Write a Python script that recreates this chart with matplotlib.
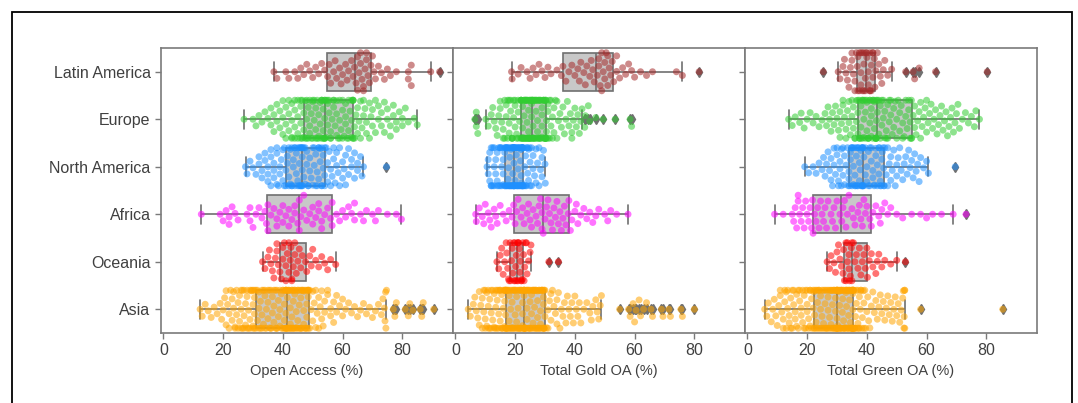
import numpy as np
import pandas as pd
import matplotlib
matplotlib.use('Agg')
import matplotlib.pyplot as plt
from matplotlib.patches import Rectangle
import seaborn as sns

regions = ['Latin America', 'Europe', 'North America', 'Africa', 'Oceania', 'Asia']
colors = ['brown', 'limegreen', 'dodgerblue', 'magenta', 'red', 'orange']
xlabels = ['Open Access (%)', 'Total Gold OA (%)', 'Total Green OA (%)']

# ---- Open Access (%) ----
oa_latam = [37, 38, 41, 42, 44, 45, 46, 47, 48, 49, 50, 51, 52, 53, 54,
            55, 55.5, 56, 57, 57.5, 58, 59, 59.5, 60, 61, 61.5, 62, 63, 63.5, 64,
            64.5, 65, 65, 65.5, 66, 66, 66.5, 67, 67, 67.5, 68, 68, 68.5, 69, 69.5,
            70, 70.5, 71, 72, 73, 74, 75, 76, 78, 82, 82, 83, 83, 89.5, 92.5]
oa_europe = [27, 30, 31, 32, 33, 34, 35, 36, 36, 37,
             37, 38, 38, 39, 39, 40, 40, 40, 41, 41,
             41, 42, 42, 42, 43, 43, 43, 43, 44, 44,
             44, 44, 45, 45, 45, 45, 46, 46, 46, 46, 46.5, 46.5,
             47, 47, 47, 47.5, 47.5, 48, 48, 48, 48.5, 48.5,
             49, 49, 49, 49.5, 49.5, 50, 50, 50, 50.5, 50.5,
             51, 51, 51, 51.5, 51.5, 52, 52, 52, 52.5, 52.5,
             53, 53, 53, 53, 53.5, 53.5, 53.5, 54, 54, 54, 54, 54, 54,
             54.5, 54.5, 55, 55, 55, 55.5, 55.5, 56, 56, 56,
             56.5, 57, 57, 57, 57.5, 58, 58, 58, 58.5, 59,
             59, 59, 59.5, 60, 60, 60, 60.5, 61, 61, 61,
             61.5, 62, 62, 62, 62.5, 63, 63, 63, 63.5, 63.5, 63.5, 63.5, 63.5,
             64, 64, 64.5, 65, 65, 65.5, 66, 66, 66.5, 67,
             67, 67.5, 68, 68, 69, 69, 69.5, 70, 70, 71,
             71, 72, 72, 73, 73, 74, 74, 75, 75, 76,
             76, 77, 77, 78, 78, 79, 80, 80, 81, 82, 84, 85]
oa_namerica = [27.5, 28, 29, 30, 31, 32, 32, 33, 33, 34,
               34, 35, 35, 35, 36, 36, 36, 37, 37, 37,
               38, 38, 38, 38.5, 39, 39, 39.5, 40, 40, 40.5, 40.5, 41,
               41, 41.5, 41.5, 42, 42, 42, 42.5, 42.5, 43, 43,
               43, 43.5, 43.5, 44, 44, 44, 44.5, 44.5, 45, 45,
               45, 45.5, 45.5, 45.5, 46, 46, 46, 46, 46.5, 46.5, 46.5, 46.5, 46.5,
               46.5, 47, 47, 47.5, 47.5, 48, 48, 48.5, 48.5, 49,
               49, 49.5, 50, 50, 50.5, 50.5, 51, 51, 51.5, 51.5,
               52, 52, 52, 52.5, 52.5, 53, 53, 53, 53.5, 53.5, 54, 54,
               54, 54.5, 55, 55, 55.5, 56, 56, 56.5, 57, 57,
               57.5, 58, 58, 58.5, 59, 59, 60, 60, 60.5, 61,
               61, 62, 62, 63, 63, 64, 64, 65, 65, 66, 66.5, 67, 74.7]
oa_africa = [12.7, 19, 20, 21, 22, 22, 23, 24, 25, 28, 29, 29, 30, 31, 32, 33, 34,
             34.5, 35, 35, 36, 37, 38, 38, 39, 40, 40, 41, 42, 42, 43, 44, 44, 45, 45.5,
             45.5, 46, 47, 47, 48, 49, 50, 50, 51, 52, 52, 53, 53, 54, 55, 56, 56.5,
             56.5, 58, 59, 60, 61, 62, 63, 64, 64, 66, 67, 68, 70, 71, 72, 75, 78, 79.7]
oa_oceania = [33.2, 34, 35, 35.5, 36, 36.5, 37, 37.5, 38, 38, 38.5,
              39, 39.5, 40, 40, 40.5, 41, 41, 41.5, 42, 42, 42.5,
              42.7, 43, 43, 43.5, 44, 44, 44.5, 45, 45.5, 46, 46.5,
              47.6, 48, 49, 49.5, 50, 51, 52, 53, 54, 55, 56, 57.7]
oa_asia = [12.3, 13, 14, 15, 16, 17, 18, 19, 19.5, 20,
           20.5, 21, 21, 21.5, 22, 22, 22.5, 23, 23, 23.5,
           23.5, 24, 24, 24.5, 24.5, 25, 25, 25.5, 25.5, 26,
           26, 26, 26.5, 26.5, 27, 27, 27, 27.5, 27.5, 28,
           28, 28, 28.5, 28.5, 29, 29, 29, 29.5, 29.5, 30,
           30, 30, 30, 30.5, 30.5, 30.5, 30.5,
           31, 31, 31.5, 31.5, 32, 32, 32, 32.5, 32.5, 33,
           33, 33, 33.5, 33.5, 34, 34, 34, 34.5, 34.5, 35,
           35, 35, 35.5, 35.5, 36, 36, 36, 36.5, 36.5, 37,
           37, 37, 37.5, 37.5, 38, 38, 38, 38.5, 38.5, 39,
           39, 39, 39.5, 39.5, 40, 40, 40, 40.5, 40.5, 40.5,
           41, 41, 41, 41, 41, 41, 41, 41,
           41.5, 41.5, 41.5, 41.5, 42, 42, 42, 42, 42.5, 42.5,
           42.5, 42.5, 43, 43, 43, 43, 43.5, 43.5, 43.5, 43.5,
           44, 44, 44, 44, 44.5, 44.5, 44.5, 45, 45, 45,
           45, 45.5, 45.5, 45.5, 46, 46, 46, 46, 46.5, 46.5,
           46.5, 47, 47, 47, 47, 47.5, 47.5, 47.5, 48, 48,
           48, 48, 48.5, 48.5, 48.5, 48.5, 48.5,
           49, 49, 49.5, 50, 50, 50.5, 51, 51, 51.5, 52,
           52, 52.5, 53, 53, 53.5, 54, 54, 55, 55, 56,
           56, 57, 57, 58, 58, 59, 60, 60, 61, 62,
           63, 64, 65, 66, 67, 68, 69, 70, 71, 72,
           73, 73.5, 74, 74.2, 74.4, 74.5, 74.7,
           77, 77.5, 78, 81, 82, 82.5, 83.5, 86, 86.5, 87, 90.5]

# ---- Total Gold OA (%) ----
gold_latam = [18.8, 19, 21, 22, 24, 25, 26, 27, 28, 29, 30, 31, 32, 34, 35.5,
              36, 37, 38, 39, 40, 41, 41.5, 42, 43, 43.5, 44, 45, 45.5, 46, 46.5,
              47.5, 48, 48, 48.5, 49, 49, 49.5, 50, 50, 50.5, 51, 51, 51.5, 52, 52.5,
              53, 54, 54, 55, 56, 57, 58, 59, 60, 62, 64, 66, 74, 76, 81.6]
gold_europe = [6.5, 7, 7, 7.5, 10.2, 11, 12, 12.5, 13, 13.5,
               14, 14.5, 15, 15, 15.5, 16, 16, 16.5, 16.5, 17,
               17, 17.5, 17.5, 18, 18, 18, 18.5, 18.5, 19, 19,
               19, 19.5, 19.5, 20, 20, 20, 20.5, 20.5, 21, 21, 21, 21.5, 22,
               22, 22, 22, 22, 22, 22.5, 22.5, 22.5, 22.5, 22.5,
               23, 23, 23, 23, 23, 23.5, 23.5, 23.5, 23.5, 23.5,
               24, 24, 24, 24, 24, 24.5, 24.5, 24.5, 24.5, 24.5,
               25, 25, 25, 25, 25, 25.5, 25.5, 25.5, 25.5, 25.5, 25.8, 25.8,
               25.8, 26, 26, 26, 26, 26.5, 26.5, 26.5, 26.5, 27,
               27, 27, 27, 27.5, 27.5, 27.5, 27.5, 28, 28, 28,
               28, 28.5, 28.5, 28.5, 28.5, 29, 29, 29, 29, 29.5,
               29.5, 29.5, 29.5, 30, 30, 30, 30, 30.3, 30.3, 30.3, 30.3, 30.3,
               30.5, 30.5, 31, 31, 31, 31.5, 31.5, 32, 32, 32.5,
               32.5, 33, 33, 33.5, 34, 34, 34.5, 35, 35.5, 36,
               36.5, 37, 37.5, 38, 38.5, 39, 39, 39.5, 40, 40.5,
               41, 41.5, 42, 42.4,
               43.3, 43.5, 44.5, 45, 47, 49.5, 53.5, 58.5, 59]
gold_namerica = [10.6, 11, 11, 11.5, 11.5, 12, 12, 12, 12.5, 12.5,
                 13, 13, 13, 13.5, 13.5, 14, 14, 14, 14.5, 14.5,
                 15, 15, 15, 15.5, 15.5, 15.5, 16, 16, 16, 16.5, 16.5, 16.5,
                 16.6, 16.8, 17, 17, 17, 17.2, 17.4, 17.5, 17.5, 17.6,
                 17.8, 18, 18, 18, 18.2, 18.4, 18.5, 18.5, 18.6, 18.8,
                 19, 19, 19, 19.2, 19.3, 19.4, 19.5, 19.5, 19.5, 19.6, 19.6, 19.6, 19.6,
                 19.6, 19.8, 20, 20, 20, 20.2, 20.4, 20.5, 20.5, 20.6,
                 20.8, 21, 21, 21, 21.2, 21.4, 21.5, 21.5, 21.6, 21.8,
                 22, 22, 22, 22.2, 22.2, 22.3, 22.3, 22.4, 22.4, 22.4, 22.4, 22.4,
                 22.5, 22.6, 22.8, 23, 23, 23.2, 23.5, 23.5, 23.8, 24,
                 24, 24.2, 24.5, 24.5, 24.8, 25, 25, 25.5, 25.5, 26,
                 26, 26.5, 27, 27, 27.5, 28, 28, 28.5, 29, 29, 29.5, 30, 30.1]
gold_africa = [6.8, 7, 8, 9, 9.5, 10, 11, 11.5, 12, 13, 13.5, 14, 15, 16, 17, 18, 19,
               19.5, 20, 20.5, 21, 22, 22.5, 23, 24, 24.5, 25, 25.5, 26, 27, 27.5, 28, 28.5, 29, 29,
               29.4, 30, 30.5, 31, 31.5, 32, 32.5, 33, 33.5, 34, 34.5, 35, 35.5, 36, 36.5, 37, 37.8,
               38, 38.5, 39, 40, 40.5, 41, 42, 43, 44, 45, 46, 47, 48, 50, 51, 52, 54, 57.8]
gold_oceania = [13.9, 14.5, 15, 15.5, 16, 16.5, 17, 17.2, 17.5, 17.8, 18,
                18.3, 18.5, 18.8, 19, 19.2, 19.5, 19.7, 19.9, 20, 20.2, 20.4,
                20.6, 20.8, 21, 21, 21.2, 21.4, 21.6, 21.8, 22, 22.2, 22.4,
                22.6, 22.8, 23, 23.2, 23.5, 23.8, 24, 24.5, 25, 25.3, 31.3, 34.5]
gold_asia = [4.3, 5, 6, 6.5, 7, 7.5, 8, 8, 8.5, 9,
             9, 9.5, 9.5, 10, 10, 10, 10.5, 10.5, 11, 11,
             11, 11.5, 11.5, 12, 12, 12, 12.5, 12.5, 13, 13,
             13, 13.5, 13.5, 13.5, 14, 14, 14, 14.5, 14.5, 14.5,
             15, 15, 15, 15.5, 15.5, 15.5, 16, 16, 16, 16.5,
             16.5, 16.5, 16.5, 16.8, 16.8, 16.8, 16.8, 16.8,
             17, 17, 17, 17, 17.5, 17.5, 17.5, 17.5, 18, 18,
             18, 18, 18.5, 18.5, 18.5, 18.5, 19, 19, 19, 19,
             19.5, 19.5, 19.5, 19.5, 20, 20, 20, 20, 20.5, 20.5,
             20.5, 20.5, 21, 21, 21, 21, 21.5, 21.5, 21.5, 21.5,
             22, 22, 22, 22, 22.5, 22.5, 22.5, 22.5, 23, 23,
             23, 23, 23, 23, 23, 23, 23,
             23, 23.5, 23.5, 23.5, 23.5, 24, 24, 24, 24, 24.5,
             24.5, 24.5, 24.5, 25, 25, 25, 25, 25.5, 25.5, 25.5,
             25.5, 26, 26, 26, 26, 26.5, 26.5, 26.5, 26.5, 27,
             27, 27, 27, 27.5, 27.5, 27.5, 27.5, 28, 28, 28,
             28, 28.5, 28.5, 28.5, 28.5, 29, 29, 29, 29, 29.5,
             29.5, 29.5, 29.5, 29.7, 29.7, 29.7, 29.7,
             30, 30, 30.5, 31, 31, 31.5, 32, 32, 32.5, 33,
             33.5, 34, 34, 34.5, 35, 35.5, 36, 36.5, 37, 37.5,
             38, 38.5, 39, 39.5, 40, 40.5, 41, 41.5, 42, 43,
             44, 45, 45.5, 46, 47, 47.5, 48, 48.5, 48.9,
             55, 58, 58.5, 59.5, 60, 60.5, 61.5, 62, 63, 64,
             65.5, 66, 69, 69.5, 71.5, 72, 75.5, 76, 80]

# ---- Total Green OA (%) ----
green_latam = [25.4, 30.4, 31, 32, 32.5, 33, 33.5, 34, 34.5, 35, 35, 35.5, 36, 36, 36.5,
               36.8, 37, 37, 37.5, 37.5, 38, 38, 38, 38.5, 38.5, 39, 39, 39, 39.5, 39.5,
               39.7, 40, 40, 40.5, 40.5, 41, 41, 41, 41.5, 41.5, 42, 42, 42, 42.5, 42.7,
               43, 43.5, 44, 44.5, 45, 45.5, 46, 47, 48.3, 53, 55.5, 56, 57.5, 63, 80.3]
green_europe = [13.8, 15, 16, 17.5, 18, 19, 20, 21, 22, 23,
                24, 25, 26, 26.5, 27, 27.5, 28, 28.5, 29, 29.5,
                30, 30.5, 31, 31, 31.5, 32, 32, 32.5, 33, 33,
                33.5, 34, 34, 34.5, 35, 35, 35.5, 35.5, 36, 36, 36.5, 36.5, 37,
                37, 37, 37.5, 37.5, 37.5, 38, 38, 38, 38.5, 38.5,
                38.5, 39, 39, 39, 39.5, 39.5, 39.5, 40, 40, 40,
                40.5, 40.5, 40.5, 41, 41, 41, 41.5, 41.5, 41.5, 42,
                42, 42, 42.5, 42.5, 42.5, 43, 43, 43, 43, 43.2, 43.2, 43.2,
                43.5, 43.5, 44, 44, 44.5, 44.5, 45, 45, 45.5, 45.5,
                46, 46, 46.5, 46.5, 47, 47, 47.5, 47.5, 48, 48,
                48.5, 49, 49, 49.5, 50, 50, 50.5, 51, 51, 51.5,
                52, 52, 52.5, 53, 53, 53.5, 54, 54, 54.5, 54.5, 54.9, 54.9,
                55, 55.5, 56, 56, 56.5, 57, 57.5, 58, 58, 58.5,
                59, 59.5, 60, 60, 60.5, 61, 61.5, 62, 62.5, 63,
                63.5, 64, 64.5, 65, 65.5, 66, 66.5, 67, 67.5, 68,
                68.5, 69, 69.5, 70, 70.5, 71, 72, 73, 74, 75, 76, 76.5, 77.7]
green_namerica = [19.2, 20.5, 22, 23, 24, 25, 25.5, 26, 26.5, 27,
                  27.5, 28, 28, 28.5, 29, 29, 29.5, 30, 30, 30.5,
                  30.5, 31, 31, 31.5, 31.5, 32, 32, 32.5, 32.5, 33, 33.5, 33.8,
                  34, 34, 34.2, 34.5, 34.5, 34.8, 35, 35, 35.2, 35.5,
                  35.5, 35.8, 36, 36, 36.2, 36.5, 36.5, 36.8, 37, 37,
                  37.2, 37.5, 37.5, 37.8, 38, 38, 38.2, 38.4, 38.5, 38.5, 38.6, 38.6, 38.7,
                  38.7, 39, 39, 39.5, 39.5, 40, 40, 40.5, 40.5, 41,
                  41, 41.5, 41.5, 42, 42, 42.5, 42.5, 43, 43, 43.5,
                  43.5, 44, 44, 44.2, 44.5, 44.5, 44.8, 45, 45.2, 45.4, 45.6, 45.7,
                  45.8, 46, 46.5, 47, 47, 47.5, 48, 48, 48.5, 49,
                  49.5, 50, 50, 50.5, 51, 51.5, 52, 52.5, 53, 53.5,
                  54, 54.5, 55, 55.5, 56, 56.5, 57, 57.5, 58, 59, 60, 60.6, 69.6]
green_africa = [9.1, 12, 15, 15.5, 16, 16.5, 17, 17, 17.5, 18, 18.5, 19, 19.5, 20, 20.5, 21, 21.5,
                21.8, 22, 22.5, 23, 23.5, 24, 24.5, 25, 25.5, 26, 26.5, 27, 28, 28.5, 29, 29.5, 30, 31,
                31.6, 32, 32.5, 33, 33.5, 34, 35, 35.5, 36, 37, 37.5, 38, 38.5, 39, 39.5, 40, 41,
                41.5, 42, 43, 44, 44.5, 45, 46, 47, 48, 50, 52, 55, 58, 60, 62, 65, 68.9, 73.2]
green_oceania = [26.7, 27.5, 28, 29, 29.5, 30, 30.5, 31, 31.5, 32, 32.2,
                 32.5, 33, 33, 33.5, 33.5, 34, 34, 34.2, 34.5, 34.8, 35,
                 35, 35.5, 36, 36.5, 37, 37.5, 38, 38.5, 39, 39.5, 40,
                 40.2, 40.8, 41.5, 42, 43, 43.5, 44, 45, 46, 48, 50, 52.9]
green_asia = [5.8, 6.5, 7, 8, 8.5, 9, 9.5, 10, 10.5, 11,
              11, 11.5, 12, 12, 12.5, 12.5, 13, 13, 13.5, 13.5,
              14, 14, 14.5, 14.5, 15, 15, 15.5, 15.5, 16, 16,
              16.5, 16.5, 17, 17, 17.5, 17.5, 18, 18, 18.5, 18.5,
              19, 19, 19.5, 19.5, 20, 20, 20, 20.5, 20.5, 21,
              21, 21, 21.5, 21.5, 22, 22, 22.2, 22.2,
              22.5, 22.5, 22.5, 23, 23, 23, 23.5, 23.5, 23.5, 24,
              24, 24, 24.5, 24.5, 24.5, 25, 25, 25, 25.5, 25.5,
              25.5, 26, 26, 26, 26.5, 26.5, 26.5, 27, 27, 27,
              27, 27.5, 27.5, 27.5, 28, 28, 28, 28, 28.5, 28.5,
              28.5, 29, 29, 29, 29, 29.5, 29.5, 29.5, 29.5, 30,
              30, 30, 30, 30, 30, 30, 30,
              30, 30, 30.2, 30.3, 30.5, 30.5, 30.6, 30.8, 30.9, 31,
              31, 31.2, 31.3, 31.5, 31.5, 31.6, 31.8, 31.9, 32, 32,
              32.2, 32.3, 32.5, 32.5, 32.6, 32.8, 32.9, 33, 33, 33.2,
              33.3, 33.5, 33.5, 33.6, 33.8, 33.9, 34, 34, 34.2, 34.3,
              34.5, 34.5, 34.6, 34.8, 34.9, 35, 35, 35.1, 35.2, 35.2,
              35.3, 35.3, 35.4, 35.4, 35.4, 35.4, 35.4,
              35.5, 35.6, 35.8, 36, 36, 36.2, 36.5, 36.5, 36.8, 37,
              37, 37.2, 37.5, 37.5, 37.8, 38, 38, 38.3, 38.5, 38.8,
              39, 39, 39.3, 39.6, 40, 40.3, 40.6, 41, 41.5, 42,
              42.5, 43, 43.5, 44, 44.5, 45, 45.5, 46, 46.5, 47,
              47.5, 48, 48.5, 49, 49.5, 50, 50.5, 51, 51.5, 52,
              52.2, 52.4, 52.5, 52.6, 52.7, 52.7, 58, 85.5]

panels = [
    [oa_latam, oa_europe, oa_namerica, oa_africa, oa_oceania, oa_asia],
    [gold_latam, gold_europe, gold_namerica, gold_africa, gold_oceania, gold_asia],
    [green_latam, green_europe, green_namerica, green_africa, green_oceania, green_asia],
]

sns.set_style('ticks')
plt.rcParams['font.family'] = ['Liberation Sans', 'DejaVu Sans']
text_col = '#404040'
spine_col = '#7a7a7a'
box_line = '#707070'

fig = plt.figure(figsize=(10.78, 4.03), dpi=100)
W, H = 1078, 403
left, top, bottom = 161, 48, 333
pw, gap = 291.5, 0.5

axes = []
for i, (vals, xlab) in enumerate(zip(panels, xlabels)):
    rect = ((left + i * (pw + gap)) / W, 1 - bottom / H, pw / W, (bottom - top) / H)
    ax = fig.add_axes(rect, sharex=axes[0] if axes else None)
    axes.append(ax)

    df = pd.DataFrame({
        'region': np.concatenate([[r] * len(v) for r, v in zip(regions, vals)]),
        'value': np.concatenate([np.asarray(v, float) for v in vals]),
    })

    sns.boxplot(data=df, x='value', y='region', order=regions, orient='h', ax=ax,
                width=0.8, linewidth=1.2, fliersize=5,
                boxprops=dict(facecolor='#c8c8c8', edgecolor=box_line),
                whiskerprops=dict(color=box_line),
                capprops=dict(color=box_line),
                medianprops=dict(color=box_line),
                flierprops=dict(marker='d', markerfacecolor=box_line,
                                markeredgecolor=box_line))
    sns.swarmplot(data=df, x='value', y='region', hue='region', order=regions,
                  hue_order=regions, palette=colors, orient='h', ax=ax,
                  size=5, alpha=0.55, legend=False)

    ax.set_xlim(-0.8, 96.8)
    ax.set_ylim(5.5, -0.5)
    ax.set_xticks([0, 20, 40, 60, 80])
    ax.set_xlabel(xlab, fontsize=10.5, color=text_col, labelpad=4)
    ax.set_ylabel('')
    for s in ax.spines.values():
        s.set_visible(True)
        s.set_color(spine_col)
        s.set_linewidth(1.2)
    ax.tick_params(axis='both', colors=spine_col, labelcolor=text_col,
                   labelsize=11.5, length=4, width=1, direction='out')
    if i > 0:
        ax.set_yticks(range(len(regions)))
        ax.tick_params(axis='y', labelleft=False)

# outer black frame
fig.patches.append(Rectangle((12 / W, -0.05), 1060 / W, 1.05 - 12 / H,
                             transform=fig.transFigure, fill=False,
                             edgecolor='black', linewidth=1.3))

fig.savefig('out.png', dpi=100)
